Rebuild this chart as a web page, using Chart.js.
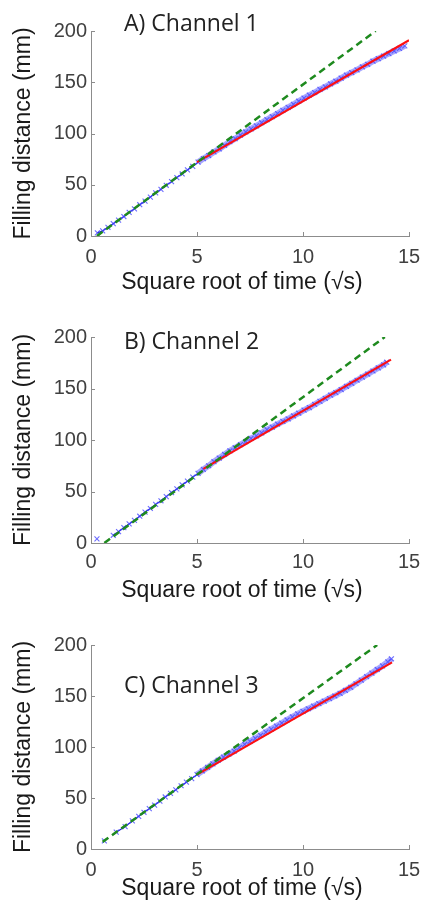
<!DOCTYPE html>
<html><head><meta charset="utf-8">
<script src="https://cdn.jsdelivr.net/npm/chart.js@4.4.1/dist/chart.umd.min.js"></script>
<style>
html,body{margin:0;padding:0;background:#fff;}
body{width:434px;height:903px;position:relative;overflow:hidden;}
canvas{position:absolute;left:0;}
.ptitle{position:absolute;left:124px;font-family:'Open Sans',sans-serif;font-size:23px;line-height:23px;color:#222;white-space:nowrap;}
.xtitle{position:absolute;left:42px;width:400px;text-align:center;font-family:'Liberation Sans',Arial,sans-serif;font-size:23px;line-height:23px;color:#1a1a1a;white-space:nowrap;}
</style></head><body>
<canvas id="cA" width="434" height="300" style="top:0px"></canvas>
<canvas id="cB" width="434" height="310" style="top:300px"></canvas>
<canvas id="cC" width="434" height="303" style="top:600px"></canvas>
<div class="ptitle" id="tA" style="top:11px"></div>
<div class="ptitle" id="tB" style="top:329px"></div>
<div class="ptitle" id="tC" style="top:673px"></div>
<div class="xtitle" id="xA" style="top:270px"></div>
<div class="xtitle" id="xB" style="top:578px"></div>
<div class="xtitle" id="xC" style="top:876px"></div>
<script>
// ---- data ----
const panelTitles = ['A) Channel 1', 'B) Channel 2', 'C) Channel 3'];
const xAxisTitle = 'Square root of time (\u221As)';
const yAxisTitle = 'Filling distance (mm)';
const xTickValues = [0, 5, 10, 15];
const yTickValues = [0, 50, 100, 150, 200];

// Channel 1 measured data
const ch1X = [0.30,0.55,0.80,1.05,1.30,1.55,1.80,2.05,2.30,2.55,2.80,3.05,3.30,3.55,3.80,4.05,4.30,4.55,4.80,5.05,5.30,5.55,5.80,6.05,6.30,6.55,6.80,7.05,7.30,7.55,7.80,8.05,8.30,8.55,8.80,9.05,9.30,9.55,9.80,10.05,10.30,10.55,10.80,11.05,11.30,11.55,11.80,12.05,12.30,12.55,12.80,13.05,13.30,13.55,13.80,14.05,14.30,14.55,14.80];
const ch1Y = [3,5,8.5,12,15.5,19,23,26.5,30.5,34,38,42,45.5,49.5,53,57,60.5,64.5,68,72,75.5,78.5,82,85,88.5,92,95,98.5,101.5,104.5,107.5,110.5,113.5,116.5,119.5,122.5,125.5,128.5,131.5,134.5,137.5,140,143,145.5,148.5,151,154,157,159.5,162,165,167.5,170.5,173,175.5,178,180.5,183,185.5];
const fit1X = [5.0, 15.0];
const fit1Y = [72, 191];
const lin1X = [0.28, 13.43];
const lin1Y = [0, 200];

// Channel 2 measured data
const ch2X = [0.28,1.05,1.30,1.55,1.80,2.05,2.30,2.55,2.80,3.05,3.30,3.55,3.80,4.05,4.30,4.55,4.80,5.05,5.30,5.55,5.80,6.05,6.30,6.55,6.80,7.05,7.30,7.55,7.80,8.05,8.30,8.55,8.80,9.05,9.30,9.55,9.80,10.05,10.30,10.55,10.80,11.05,11.30,11.55,11.80,12.05,12.30,12.55,12.80,13.05,13.30,13.55,13.80,13.95];
const ch2Y = [4,7.5,11,15,18.5,22,26,30,33.5,37.5,41,45,49,52.5,56.5,60,64,67.5,71.5,75,79,82.5,86,89.5,92.5,95.5,98.5,101.5,104,107,110,112.5,115.5,118,120.5,123.5,126,129,131.5,134.5,137.5,140.5,143.5,146,149,152,155,158,161,164,167,170,173,175.5];
const fit2X = [5.3, 14.15];
const fit2Y = [72, 178];
const lin2X = [0.63, 13.86];
const lin2Y = [0, 200];

// Channel 3 measured data
const ch3X = [0.63,1.19,1.61,1.95,2.25,2.50,2.75,3.00,3.25,3.50,3.75,4.00,4.25,4.50,4.75,5.00,5.25,5.50,5.75,6.00,6.25,6.50,6.75,7.00,7.25,7.50,7.75,8.00,8.25,8.50,8.75,9.00,9.25,9.50,9.75,10.00,10.25,10.50,10.75,11.00,11.25,11.50,11.75,12.00,12.25,12.50,12.75,13.00,13.25,13.50,13.75,14.00,14.17];
const ch3Y = [8,16.5,22,27.5,32,36,39.5,43,47,51,54.5,58,62,65.5,69,73,76.5,80,83.5,87,90,93,96,99.5,102.5,105.5,108.5,111.5,114.5,117.5,120.5,123.5,126.5,129.5,132.5,135,137.5,140,142.5,145,147.5,150,152.5,155.5,158.5,162,165.5,169,172.5,176,179.5,183.5,186.5];
const fit3X = [5.0, 14.2];
const fit3Y = [73, 183];
const lin3X = [0.55, 13.5];
const lin3Y = [7, 200];

// ---- rendering ----
const AXIS = '#8c8c8c';
const TICKTXT = '#404040';
const pairs = (xs, ys) => xs.map((v, i) => ({x: v, y: ys[i]}));

const innerTicks = {
  id: 'innerTicks',
  afterDatasetsDraw(chart) {
    const {ctx, chartArea: a, scales: {x, y}} = chart;
    ctx.save();
    ctx.strokeStyle = AXIS; ctx.lineWidth = 1;
    ctx.beginPath();
    x.ticks.forEach(t => { const px = Math.round(x.getPixelForValue(t.value)) + 0.5; ctx.moveTo(px, a.bottom); ctx.lineTo(px, a.bottom - 4); });
    y.ticks.forEach(t => { const py = Math.round(y.getPixelForValue(t.value)) + 0.5; ctx.moveTo(a.left, py); ctx.lineTo(a.left + 4, py); });
    ctx.stroke();
    ctx.restore();
  }
};

const segGap = c => (c.p1.parsed.x - c.p0.parsed.x) > 0.5;
const segLate = c => c.p0.parsed.x >= 4.9;

function makePanel(id, cx, cy, fx, fy, lx, ly, cfg) {
  new Chart(document.getElementById(id), {
    type: 'scatter',
    data: {
      datasets: [
        { data: pairs(lx, ly), showLine: true, borderColor: '#1e8a1e', borderWidth: 2.5, borderDash: [7, 4.5], pointRadius: 0 },
        { data: pairs(fx, fy), showLine: true, borderColor: '#ff1010', borderWidth: 2, pointRadius: 0 },
        { data: pairs(cx, cy), showLine: true, borderWidth: 1.2, borderColor: 'rgba(0,0,220,0.9)',
          segment: {
            borderColor: c => segGap(c) ? 'rgba(0,0,0,0)' : (segLate(c) ? 'rgba(80,80,255,0.5)' : 'rgba(0,0,220,0.9)'),
            borderWidth: c => segLate(c) ? 6 : 1.2
          },
          pointStyle: 'crossRot', pointRadius: 3.5, pointBorderColor: 'rgba(70,70,255,0.8)', pointBorderWidth: 1.1, pointBackgroundColor: 'rgba(0,0,0,0)' }
      ]
    },
    options: {
      responsive: false, animation: false, devicePixelRatio: 1,
      layout: { padding: { top: cfg.top, right: 25, left: 0, bottom: 0 } },
      plugins: { legend: { display: false }, tooltip: { enabled: false } },
      scales: {
        x: {
          type: 'linear', min: 0, max: 15,
          afterBuildTicks: s => { s.ticks = xTickValues.map(v => ({value: v})); },
          afterFit: s => { s.height = cfg.xh; },
          grid: { display: true, drawOnChartArea: false, drawTicks: false },
          border: { display: true, color: AXIS, width: 1 },
          ticks: { padding: cfg.xpad, color: TICKTXT, font: { family: 'Liberation Sans, Arial', size: 20 } },
          title: { display: false }
        },
        y: {
          type: 'linear', min: 0, max: 200,
          afterBuildTicks: s => { s.ticks = yTickValues.map(v => ({value: v})); },
          afterFit: s => { s.width = 91; },
          grid: { display: true, drawOnChartArea: false, drawTicks: false },
          border: { display: true, color: AXIS, width: 1 },
          ticks: { padding: 4, color: TICKTXT, font: { family: 'Liberation Sans, Arial', size: 20 } },
          title: { display: true, text: yAxisTitle, color: '#1a1a1a', padding: { top: 10, bottom: 0 }, font: { family: 'Liberation Sans, Arial', size: 23 } }
        }
      }
    },
    plugins: [innerTicks]
  });
}

['A', 'B', 'C'].forEach((k, i) => {
  document.getElementById('t' + k).textContent = panelTitles[i];
  document.getElementById('x' + k).textContent = xAxisTitle;
});

makePanel('cA', ch1X, ch1Y, fit1X, fit1Y, lin1X, lin1Y, { top: 31, xh: 64, xpad: 9 });
makePanel('cB', ch2X, ch2Y, fit2X, fit2Y, lin2X, lin2Y, { top: 37, xh: 67, xpad: 7 });
makePanel('cC', ch3X, ch3Y, fit3X, fit3Y, lin3X, lin3Y, { top: 45, xh: 54, xpad: 9 });
</script>
</body></html>
